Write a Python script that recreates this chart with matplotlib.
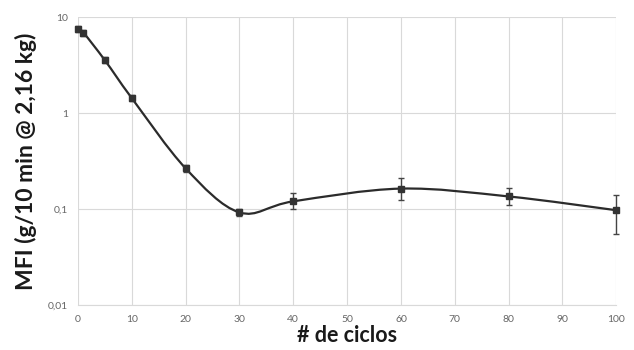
#!/usr/bin/env python
# MFI vs number of cycles, log scale, smoothed line with error bars.
import numpy as np, matplotlib
matplotlib.use("Agg")
import matplotlib.pyplot as plt
from matplotlib.path import Path
from matplotlib.patches import PathPatch
from matplotlib.ticker import FixedLocator, FixedFormatter

plt.rcParams["font.family"] = ["Lato", "DejaVu Sans"]

ciclos = [0, 1, 5, 10, 20, 30, 40, 60, 80, 100]
mfi = [7.5, 6.9, 3.55, 1.43, 0.265, 0.092, 0.12, 0.163, 0.135, 0.097]
err_lo = [0.5, 0.5, 0.25, 0.1, 0.02, 0.008, 0.02, 0.038, 0.025, 0.042]
err_hi = [0.6, 0.5, 0.25, 0.1, 0.02, 0.008, 0.028, 0.047, 0.03, 0.043]
yticks = [0.01, 0.1, 1, 10]
ytick_labels = ["0,01", "0,1", "1", "10"]
xticks = list(range(0, 101, 10))

fig = plt.figure(figsize=(6.34, 3.5), dpi=100)
ax = fig.add_axes([0.123, 0.129, 0.849, 0.822])
ax.set_yscale("log")
ax.set_xlim(0, 100)
ax.set_ylim(0.01, 10)

# smooth curve (Excel-like bezier) built in (x, log y) space
px = np.array(ciclos, float)
py = np.log10(mfi)
verts, codes = [(px[0], mfi[0])], [Path.MOVETO]
t = 1/6
for i in range(len(px) - 1):
    p0 = (px[max(i-1, 0)], py[max(i-1, 0)])
    p1 = (px[i], py[i])
    p2 = (px[i+1], py[i+1])
    p3 = (px[min(i+2, len(px)-1)], py[min(i+2, len(px)-1)])
    c1 = (p1[0] + (p2[0]-p0[0])*t, p1[1] + (p2[1]-p0[1])*t)
    c2 = (p2[0] - (p3[0]-p1[0])*t, p2[1] - (p3[1]-p1[1])*t)
    for c in (c1, c2, p2):
        verts.append((c[0], 10**c[1]))
        codes.append(Path.CURVE4)
ax.add_patch(PathPatch(Path(verts, codes), fill=False, edgecolor="#2b2b2b", lw=1.6, zorder=3))

ax.errorbar(ciclos, mfi, yerr=[err_lo, err_hi], fmt="s", ms=4, color="#333333",
            ecolor="#444444", elinewidth=1, capsize=2, capthick=1, zorder=4, clip_on=False)

ax.yaxis.set_major_locator(FixedLocator(yticks))
ax.yaxis.set_major_formatter(FixedFormatter(ytick_labels))
ax.yaxis.set_minor_locator(FixedLocator([]))
ax.set_xticks(xticks)
ax.grid(True, color="#d9d9d9", lw=0.8)
ax.set_axisbelow(True)
for s in ax.spines.values():
    s.set_visible(False)
ax.spines["bottom"].set_visible(True)
ax.spines["bottom"].set_color("#d9d9d9")
ax.tick_params(length=0, labelsize=7.5, colors="#666666", pad=7)

ax.set_xlabel("# de ciclos", fontsize=15.5, fontweight="bold", color="#1a1a1a", labelpad=1)
ax.set_ylabel("MFI (g/10 min @ 2,16 kg)", fontsize=16.5, fontweight="bold", color="#1a1a1a", labelpad=8)

fig.savefig("out.png", dpi=100)
